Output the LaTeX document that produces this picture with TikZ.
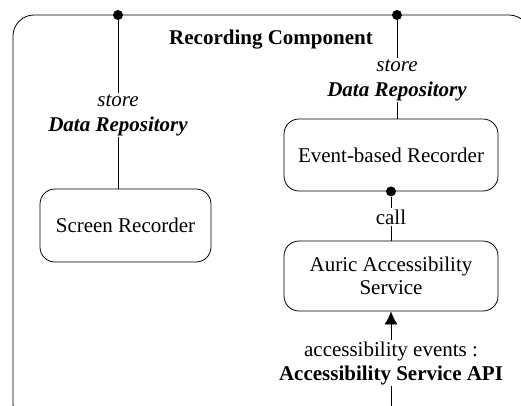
\documentclass[tikz,border=0pt]{standalone}
\usepackage{fontspec}
\setmainfont{Liberation Serif}
\usetikzlibrary{positioning,arrows.meta}

\tikzset{
  part/.style={draw, rounded corners=15pt, minimum width=214pt, minimum height=72pt, align=center, inner sep=2pt},
  port/.style={circle, fill, inner sep=0pt, minimum size=10pt},
  lbl/.style={align=center, inner sep=1pt},
}

\begin{document}
\begin{tikzpicture}[x=1pt,y=-1pt,line width=0.8pt,font=\fontsize{21}{23}\selectfont]
  \useasboundingbox (0,0) rectangle (521,405);
  % outer component, cut by the page
  \begin{scope}
    \clip (0,0) rectangle (521,405);
    \draw[rounded corners=21pt] (13,15) rectangle (530,425);
  \end{scope}

  \node[font=\fontsize{21}{23}\selectfont\bfseries] (title) at (271,40) {Recording Component};

  \node[part, minimum width=171pt, minimum height=73pt] (screen) at (125.5,225.5) {Screen Recorder};
  \node[part] (event) at (391,155) {Event-based Recorder};
  \node[part, minimum height=70pt] (auric) at (391,276) {Auric Accessibility\\Service};

  \node[port] (portA) at (118,15) {};
  \node[port] (portB) at (397,15) {};
  \node[port] (portC) at (event.south) {};

  \node[lbl] (storeA) at (118,115) {\textit{store}\\[2pt]\textbf{\textit{Data Repository}}};
  \node[lbl] (storeB) at (397,80) {\textit{store}\\[2pt]\textbf{\textit{Data Repository}}};
  \node[lbl] (call) at (391,217) {call};
  \node[lbl] (events) at (391,363) {accessibility events :\\[1pt]\textbf{Accessibility Service API}};
  \coordinate (apiEnd) at (391,412);

  %ports to parts
  \draw (portA) -- (storeA);
  \draw (storeA) -- (storeA |- screen.north);
  \draw (portB) -- (storeB);
  \draw (storeB) -- (storeB |- event.north);
  \draw (portC) -- (call);
  \draw (call) -- (auric);
  \draw[-{Latex[length=13pt,width=13pt]}] (events) -- (auric);
  \draw (events) -- (apiEnd);
\end{tikzpicture}
\end{document}
